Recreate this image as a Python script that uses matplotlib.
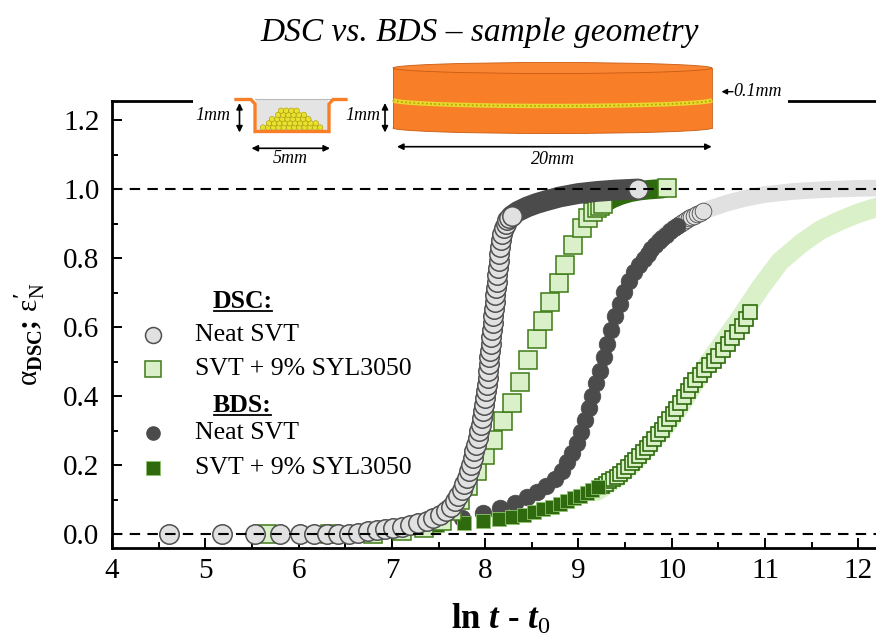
import matplotlib
matplotlib.use('Agg')
import matplotlib.pyplot as plt
import numpy as np
from matplotlib.patches import Rectangle, Ellipse, Circle

plt.rcParams['font.family'] = 'Liberation Serif'
plt.rcParams['mathtext.fontset'] = 'custom'
plt.rcParams['mathtext.rm'] = 'Liberation Serif'
plt.rcParams['mathtext.bf'] = 'Liberation Serif:bold'
plt.rcParams['mathtext.it'] = 'Liberation Serif:italic:bold'

# ---- data (x = ln t - t0, y = alpha / eps'_N) ----
dsc_neat = [(4.606, 0.0), (5.178, 0.0), (5.535, 0.0), (5.803, 0.0), (6.010, 0.0),
            (6.160, 0.0), (6.303, 0.0), (6.421, 0.001), (6.535, 0.002), (6.642, 0.004),
            (6.742, 0.008), (6.839, 0.013), (6.928, 0.016), (7.017, 0.019), (7.107, 0.022),
            (7.196, 0.026), (7.285, 0.031), (7.375, 0.038), (7.446, 0.046), (7.518, 0.056),
            (7.582, 0.068), (7.636, 0.080), (7.678, 0.095), (7.714, 0.110), (7.750, 0.127),
            (7.778, 0.144), (7.804, 0.162), (7.829, 0.182), (7.850, 0.201), (7.868, 0.220),
            (7.885, 0.240), (7.904, 0.259), (7.922, 0.278), (7.936, 0.298), (7.950, 0.317),
            (7.965, 0.336), (7.975, 0.356), (7.986, 0.375), (7.997, 0.394), (8.007, 0.414),
            (8.018, 0.433), (8.025, 0.452), (8.032, 0.472), (8.038, 0.492), (8.045, 0.512),
            (8.052, 0.532), (8.059, 0.552), (8.066, 0.572), (8.073, 0.592), (8.080, 0.612),
            (8.087, 0.632), (8.094, 0.652), (8.101, 0.672), (8.108, 0.692), (8.115, 0.712),
            (8.122, 0.732), (8.129, 0.752), (8.136, 0.772), (8.144, 0.792), (8.152, 0.812),
            (8.161, 0.832), (8.172, 0.852), (8.185, 0.870), (8.200, 0.886), (8.218, 0.899),
            (8.238, 0.909), (8.260, 0.917), (8.285, 0.923), (9.643, 1.000)]
dsc_neat_dense = [(8.28, 0.922), (8.35, 0.935), (8.45, 0.948), (8.55, 0.958), (8.65, 0.966),
                  (8.80, 0.977), (9.00, 0.987), (9.20, 0.993), (9.40, 0.997), (9.64, 1.000)]

dsc_syl = [(5.66, 0.0), (6.34, 0.0), (6.80, 0.002), (7.107, 0.008), (7.339, 0.017),
           (7.536, 0.037), (7.643, 0.068), (7.732, 0.100), (7.821, 0.140), (7.911, 0.182),
           (8.000, 0.228), (8.089, 0.274), (8.190, 0.328), (8.286, 0.380), (8.375, 0.440),
           (8.464, 0.505), (8.554, 0.565), (8.625, 0.617), (8.696, 0.674), (8.786, 0.728),
           (8.857, 0.781), (8.946, 0.839), (9.036, 0.887), (9.107, 0.916), (9.160, 0.933),
           (9.197, 0.945), (9.230, 0.952), (9.260, 0.958), (9.947, 1.003)]
dsc_syl_dense = [(9.20, 0.946), (9.28, 0.960), (9.36, 0.972), (9.45, 0.982), (9.55, 0.990),
                 (9.65, 0.995), (9.75, 0.998), (9.90, 1.001)]

bds_neat = [(7.75, 0.048), (7.98, 0.062), (8.16, 0.076), (8.32, 0.091), (8.45, 0.107),
            (8.555, 0.122), (8.655, 0.140), (8.745, 0.160), (8.82, 0.183), (8.88, 0.208),
            (8.935, 0.235), (8.985, 0.265), (9.03, 0.297), (9.07, 0.330), (9.11, 0.365),
            (9.15, 0.400), (9.19, 0.437), (9.23, 0.474), (9.27, 0.512), (9.31, 0.552),
            (9.35, 0.592), (9.395, 0.632), (9.44, 0.668), (9.49, 0.702), (9.545, 0.734),
            (9.60, 0.760), (9.65, 0.780), (9.70, 0.798), (9.74, 0.812), (9.78, 0.825),
            (9.82, 0.837), (9.86, 0.848), (9.90, 0.858), (9.94, 0.868), (9.98, 0.877),
            (10.02, 0.886), (10.06, 0.894)]
bds_neat_rings = [(10.09, 0.900), (10.12, 0.905), (10.15, 0.910), (10.18, 0.915),
                  (10.21, 0.919), (10.24, 0.923), (10.27, 0.927), (10.30, 0.931),
                  (10.34, 0.935)]
bds_neat_dense = [(9.85, 0.848), (10.0, 0.884), (10.2, 0.917), (10.4, 0.942), (10.6, 0.960),
                  (10.8, 0.974), (11.0, 0.984), (11.3, 0.993), (11.6, 0.998), (12.0, 1.002),
                  (12.6, 1.004)]

bds_syl = [(7.482, 0.027), (7.768, 0.032), (7.982, 0.038), (8.143, 0.044), (8.286, 0.050),
           (8.411, 0.057), (8.518, 0.064), (8.625, 0.072), (8.715, 0.080), (8.804, 0.088),
           (8.880, 0.096), (8.950, 0.104), (9.020, 0.112), (9.090, 0.120), (9.150, 0.128),
           (9.210, 0.136)]
bds_syl_chev = [(9.25, 0.140), (9.29, 0.146), (9.33, 0.153), (9.37, 0.160), (9.41, 0.167),
                (9.45, 0.175), (9.49, 0.184), (9.53, 0.194), (9.57, 0.205), (9.61, 0.216),
                (9.65, 0.227), (9.69, 0.238), (9.73, 0.249), (9.77, 0.262), (9.81, 0.275),
                (9.85, 0.289), (9.89, 0.303), (9.93, 0.318), (9.97, 0.333), (10.01, 0.348),
                (10.05, 0.363), (10.09, 0.379), (10.13, 0.397), (10.17, 0.415), (10.21, 0.433),
                (10.25, 0.447), (10.30, 0.462), (10.35, 0.476), (10.40, 0.489), (10.45, 0.502),
                (10.50, 0.517), (10.55, 0.533), (10.60, 0.551), (10.65, 0.568), (10.70, 0.585),
                (10.75, 0.603), (10.80, 0.624), (10.84, 0.644)]
bds_syl_dense = [(9.20, 0.125), (9.40, 0.160), (9.59, 0.205), (9.75, 0.255), (9.947, 0.317),
                 (10.10, 0.375), (10.233, 0.433), (10.483, 0.530), (10.733, 0.626),
                 (10.947, 0.713), (11.16, 0.790), (11.40, 0.845), (11.60, 0.882),
                 (11.80, 0.908), (12.00, 0.930), (12.20, 0.947), (12.60, 0.968)]

x_ticks = [4, 5, 6, 7, 8, 9, 10, 11, 12]
y_ticks = [0.0, 0.2, 0.4, 0.6, 0.8, 1.0, 1.2]

# colours
light_gray, dark_gray = '#e1e1e1', '#4b4b4b'
light_green, dark_green = '#d9f0c9', '#2f6b0e'
edge_green = '#3e7a16'

W, H = 876, 639
fig = plt.figure(figsize=(W / 100, H / 100), dpi=100)


def fx(px):
    return px / W


def fy(py):
    return 1 - py / H


ax = fig.add_axes([fx(112), fy(548), 793 / W, (548 - 101) / H])
ax.set_xlim(4, 12.5)
ax.set_ylim(-0.04, 1.255)


def xy(points):
    return [p[0] for p in points], [p[1] for p in points]


# BDS neat SVT
x, y = xy(bds_neat_dense)
ax.plot(x, y, color=light_gray, lw=12, solid_capstyle='round', zorder=1.0)
x, y = xy(bds_neat_rings)
ax.plot(x, y, 'o', ms=12, mfc=light_gray, mec=dark_gray, mew=0.6, zorder=1.1)
x, y = xy(bds_neat)
ax.plot(x, y, 'o', ms=12, mfc=dark_gray, mec=dark_gray, mew=0.5, zorder=1.2)

# BDS SVT + 9% SYL3050
x, y = xy(bds_syl_dense)
ax.plot(x, y, color=light_green, lw=14, solid_capstyle='round', zorder=1.5)
x, y = xy(bds_syl_chev)
ax.plot(x, y, 's', ms=10, mfc=light_green, mec=dark_green, mew=1.2, zorder=1.7)
x, y = xy(bds_syl)
ax.plot(x, y, 's', ms=10, mfc=dark_green, mec='#8fc470', mew=0.6, zorder=1.8)

# DSC SVT + 9% SYL3050
x, y = xy(dsc_syl_dense)
ax.plot(x, y, color=dark_green, lw=14, solid_capstyle='round', zorder=2.0)
x, y = xy(dsc_syl)
ax.plot(x, y, 's', ms=13.5, mfc=light_green, mec=edge_green, mew=1.1, zorder=2.2)

# DSC neat SVT
x, y = xy(dsc_neat_dense)
ax.plot(x, y, color=dark_gray, lw=15, solid_capstyle='round', zorder=2.5)
x, y = xy(dsc_neat)
ax.plot(x, y, 'o', ms=14, mfc=light_gray, mec='#505050', mew=1.1, zorder=2.7)

for level in (0.0, 1.0):
    ax.axhline(level, color='black', lw=1.5, dashes=(5, 3.5), zorder=4)

ax.set_xticks(x_ticks)
ax.set_xticks(np.arange(4.5, 12.6, 1.0), minor=True)
ax.set_yticks(y_ticks)
ax.set_yticks(np.arange(0.1, 1.25, 0.2), minor=True)
ax.set_yticklabels([f'{v:.1f}' for v in y_ticks])
ax.tick_params(which='both', direction='in', top=False, right=False, width=1.4)
ax.tick_params(which='major', length=7.5, labelsize=21)
ax.tick_params(which='minor', length=4.5)
ax.tick_params(axis='x', pad=7)
ax.tick_params(axis='y', pad=9)
for side in ('left', 'bottom', 'top'):
    ax.spines[side].set_linewidth(2.0)
ax.spines['right'].set_visible(False)

fig.text(fx(501), fy(620), r'$\mathbf{ln}\ t$ - $t_{\mathit{0}}$', fontsize=25,
         fontweight='bold', ha='center', va='center')
fig.text(fx(30), fy(334),
         r'$\mathrm{\alpha}_{\mathbf{DSC}}\mathbf{;}\,\mathrm{\varepsilon}^{\mathbf{\prime}}_{\mathrm{N}}$',
         fontsize=21, rotation=90, ha='center', va='center')
fig.text(fx(480), fy(33), 'DSC vs. BDS \u2013 sample geometry', fontsize=24,
         fontstyle='italic', ha='center', va='center')

# ---- overlay in figure pixels: legend and sample sketch ----
ov = fig.add_axes([0, 0, 1, 1], zorder=10)
ov.set_xlim(0, W)
ov.set_ylim(H, 0)
ov.axis('off')

ov.plot(153, 335, 'o', ms=11.5, mfc=light_gray, mec='#505050', mew=1.1)
ov.plot(153, 369, 's', ms=11.5, mfc=light_green, mec=edge_green, mew=1.1)
ov.plot(153, 433, 'o', ms=9.5, mfc=dark_gray, mec=dark_gray)
ov.plot(153, 468, 's', ms=9.5, mfc=dark_green, mec='#8fc470', mew=0.6)
for ty, label in [(335, 'Neat SVT'), (369, 'SVT + 9% SYL3050'),
                  (433, 'Neat SVT'), (468, 'SVT + 9% SYL3050')]:
    ov.text(195, ty, label, fontsize=18.5, ha='left', va='center')
renderer = fig.canvas.get_renderer()
for ty, label in [(302, 'DSC:'), (406, 'BDS:')]:
    t = ov.text(213, ty, label, fontsize=18.5, fontweight='bold', ha='left', va='center')
    bb = t.get_window_extent(renderer)
    ov.plot([bb.x0 + 1, bb.x1 - 1], [ty + 9, ty + 9], color='black', lw=1.3)

# white gap in the top spine
ov.add_patch(Rectangle((193, 94), 595, 15, facecolor='white', edgecolor='none'))

# DSC pan
orange, orange_dark = '#f87f28', '#c95a12'
ov.add_patch(Rectangle((256, 100), 72, 31, facecolor='#e4e4e4', edgecolor='none'))
ov.plot([255, 330], [98.5, 98.5], color='#b8b8b8', lw=0.8)
for row in range(5):
    y0 = 127.5 - row * 4.2
    left = 263 + row * 4.5 + (row % 2) * 1.5
    right = 323 - row * 5.5
    cx = left
    while cx <= right:
        ov.add_patch(Circle((cx, y0), 2.7, facecolor='#e9e030', edgecolor='#a89a00', lw=0.4))
        cx += 5.2
ov.plot([236, 251, 255, 255, 329, 329, 333, 346], [99.5, 99.5, 104, 131.5, 131.5, 104, 99.5, 99.5],
        color=orange, lw=2.4, solid_joinstyle='miter')

arrow = dict(arrowstyle='<|-|>', color='black', lw=1.2, mutation_scale=9, shrinkA=0, shrinkB=0)
ov.annotate('', xy=(239.5, 103), xytext=(239.5, 132.5), arrowprops=arrow)
ov.annotate('', xy=(251.5, 148.3), xytext=(330, 148.3), arrowprops=arrow)
ov.annotate('', xy=(385, 103), xytext=(385, 132.5), arrowprops=arrow)
ov.annotate('', xy=(397, 146.7), xytext=(711.7, 146.7), arrowprops=arrow)
ov.annotate('', xy=(721.5, 91.7), xytext=(733, 91.7),
            arrowprops=dict(arrowstyle='-|>', color='black', lw=1.0, mutation_scale=8,
                            shrinkA=0, shrinkB=0))
small = dict(fontsize=13, fontstyle='italic', va='center')
ov.text(213, 115, '1mm', ha='center', **small)
ov.text(290, 158.5, '5mm', ha='center', **small)
ov.text(362.5, 115, '1mm', ha='center', **small)
ov.text(553, 159, '20mm', ha='center', **small)
ov.text(733.5, 91.7, '0.1mm', ha='left', **small)

# BDS capacitor disc
cx0, half = 552.5, 159.5
ov.add_patch(Ellipse((cx0, 128), 2 * half, 11, facecolor=orange, edgecolor=orange_dark, lw=0.6))
ov.add_patch(Rectangle((cx0 - half, 68), 2 * half, 60, facecolor=orange, edgecolor='none'))
ov.plot([cx0 - half, cx0 - half], [68, 128], color=orange_dark, lw=0.6)
ov.plot([cx0 + half, cx0 + half], [68, 128], color=orange_dark, lw=0.6)
u = np.linspace(-1, 1, 200)
sx = cx0 + half * u
sy = 100 + 6 * np.sqrt(1 - u ** 2)
ov.plot(sx, sy, color='#e8d82e', lw=3.2, solid_capstyle='butt')
ov.plot(sx, sy, color='#b3a100', lw=1.2, ls=(0, (1, 1.5)))
ov.add_patch(Ellipse((cx0, 68), 2 * half, 11, facecolor='#fa8633', edgecolor=orange_dark, lw=0.6))

fig.savefig('out.png', dpi=100)
